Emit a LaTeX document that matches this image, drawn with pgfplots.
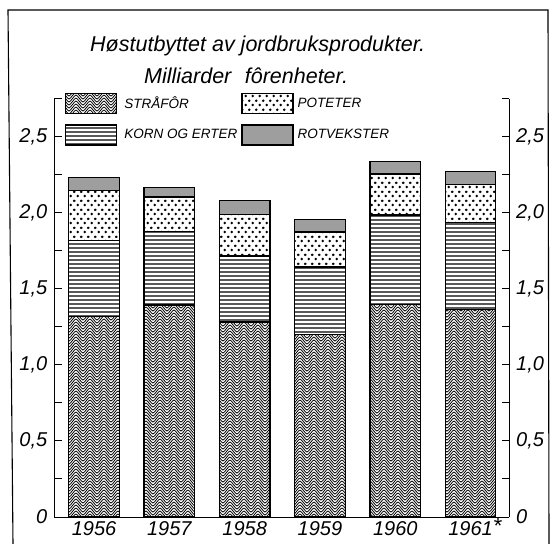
\documentclass[border=0pt]{standalone}
\usepackage{pgfplots}
\pgfplotsset{compat=1.18}
\usepackage{fontspec}
\setmainfont{Liberation Sans}
\usetikzlibrary{patterns}

\newcommand\zzrow[1]{%
 \pgfpathmoveto{\pgfpoint{-7pt}{#1pt+7pt}}%
 \pgfpathcurveto{\pgfpoint{-5.5pt}{#1pt+7pt}}{\pgfpoint{-1.5pt}{#1pt}}{\pgfpoint{0pt}{#1pt}}%
 \pgfpathcurveto{\pgfpoint{1.5pt}{#1pt}}{\pgfpoint{5.5pt}{#1pt+7pt}}{\pgfpoint{7pt}{#1pt+7pt}}%
 \pgfpathcurveto{\pgfpoint{8.5pt}{#1pt+7pt}}{\pgfpoint{12.5pt}{#1pt}}{\pgfpoint{14pt}{#1pt}}%
 \pgfpathcurveto{\pgfpoint{15.5pt}{#1pt}}{\pgfpoint{19.5pt}{#1pt+7pt}}{\pgfpoint{21pt}{#1pt+7pt}}%
}
\pgfdeclarepatternformonly{zigzag}{\pgfpointorigin}{\pgfpoint{14pt}{3pt}}{\pgfpoint{14pt}{3pt}}{%
 \pgfsetlinewidth{0.8pt}%
 \zzrow{-9}\zzrow{-6}\zzrow{-3}\zzrow{0}\zzrow{3}%
 \pgfusepath{stroke}%
}
\pgfdeclarepatternformonly{hlines}{\pgfpointorigin}{\pgfpoint{4pt}{4.4pt}}{\pgfpoint{4pt}{4.4pt}}{%
 \pgfpathrectangle{\pgfpoint{-0.2pt}{1.6pt}}{\pgfpoint{4.4pt}{1.4pt}}%
 \pgfusepath{fill}%
}
\pgfdeclarepatternformonly{potdots}{\pgfpointorigin}{\pgfpoint{7pt}{8.6pt}}{\pgfpoint{7pt}{8.6pt}}{%
 \pgfpathcircle{\pgfpoint{1.75pt}{2.15pt}}{1.45pt}%
 \pgfpathcircle{\pgfpoint{5.25pt}{6.45pt}}{1.45pt}%
 \pgfusepath{fill}%
}

\begin{document}
\begin{tikzpicture}
\path[use as bounding box] (0,0) rectangle (551bp,544bp);
\draw[line width=1.1bp] (13bp,0) -- (8bp,534bp) -- (548bp,534bp) -- (549bp,0);

\begin{axis}[
  at={(54.5bp,27bp)}, anchor=south west,
  scale only axis, width=454.5bp, height=418bp,
  xmin=-0.525, xmax=5.51, ymin=0, ymax=2.75,
  ybar stacked, bar width=50.5bp,
  axis x line*=bottom, axis y line*=left,
  axis line style={-, line width=1bp},
  xtick={0,1,2,3,4,5},
  xticklabels={1956,1957,1958,1959,1960,1961\rlap{\smash{\raisebox{0.2ex}{\fontsize{22bp}{22bp}\selectfont *}}}},
  xtick style={draw=none},
  xticklabel style={inner sep=0pt, yshift=-4bp, font=\fontsize{20bp}{21bp}\selectfont\itshape},
  ytick={0,0.5,1,1.5,2,2.5},
  yticklabels={0,{0,5},{1,0},{1,5},{2,0},{2,5}},
  minor ytick={0.25,0.75,1.25,1.75,2.25,2.75},
  tick align=inside, major tick length=7bp, minor tick length=7bp,
  tick style={line width=1bp, black},
  yticklabel style={inner sep=0pt, xshift=-7bp, font=\fontsize{20bp}{21bp}\selectfont\itshape},
  every axis plot/.append style={draw=black, line width=1.3bp},
  legend image code/.code={\draw[#1, line width=1.2bp] (0bp,-10bp) rectangle (51bp,10bp);},
  legend columns=2, transpose legend,
  legend style={at={(0.0231,1.0144)}, anchor=north west, draw=none, fill=none,
    inner sep=0pt, row sep=10bp, column sep=0pt,
    font=\fontsize{13.5bp}{15bp}\selectfont\itshape,
    nodes={inner sep=0pt, anchor=west}},
]
\addplot[pattern=zigzag] coordinates {(0,1.32) (1,1.395) (2,1.283) (3,1.20) (4,1.40) (5,1.366)};
\addlegendentry{\hspace*{7bp}\makebox[117bp][l]{STRÅFÔR}}
\addplot[pattern=hlines] coordinates {(0,0.50) (1,0.485) (2,0.434) (3,0.444) (4,0.586) (5,0.571)};
\addlegendentry{\hspace*{7bp}\makebox[117bp][l]{KORN OG ERTER}}
\addplot[pattern=potdots] coordinates {(0,0.33) (1,0.225) (2,0.273) (3,0.231) (4,0.271) (5,0.251)};
\addlegendentry{\hspace*{4bp}POTETER}
\addplot[fill=black!38] coordinates {(0,0.085) (1,0.065) (2,0.09) (3,0.08) (4,0.08) (5,0.086)};
\addlegendentry{\hspace*{4bp}ROTVEKSTER}
\end{axis}

\begin{axis}[
  at={(54.5bp,27bp)}, anchor=south west,
  scale only axis, width=454.5bp, height=418bp,
  xmin=-0.525, xmax=5.51, ymin=0, ymax=2.75,
  axis x line=none, axis y line*=right,
  axis line style={-, line width=1bp},
  ytick={0,0.5,1,1.5,2,2.5},
  yticklabels={0,{0,5},{1,0},{1,5},{2,0},{2,5}},
  minor ytick={0.25,0.75,1.25,1.75,2.25,2.75},
  tick align=inside, major tick length=7bp, minor tick length=7bp,
  tick style={line width=1bp, black},
  yticklabel style={inner sep=0pt, xshift=7bp, font=\fontsize{20bp}{21bp}\selectfont\itshape},
]
\addplot[draw=none] coordinates {(0,0)};
\end{axis}

\node[anchor=base west, inner sep=0pt, font=\fontsize{21.5bp}{24bp}\selectfont\itshape] at (90bp,492bp) {Høstutbyttet av jordbruksprodukter.};
\node[anchor=base west, inner sep=0pt, font=\fontsize{21.5bp}{24bp}\selectfont\itshape] at (144bp,460bp) {Milliarder\hspace{0.35em} fôrenheter.};
\end{tikzpicture}
\end{document}
